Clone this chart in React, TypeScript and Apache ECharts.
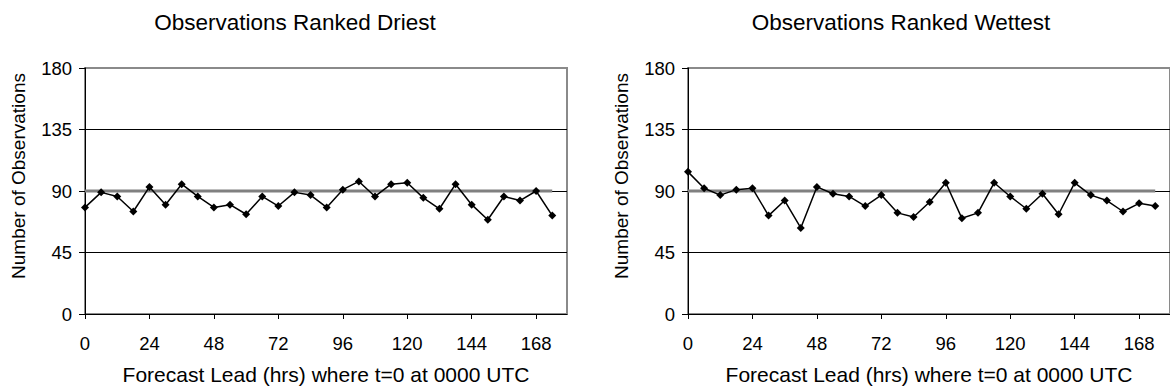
import React, { useEffect, useRef } from "react";
import * as echarts from "echarts";

const leadHours = [0, 6, 12, 18, 24, 30, 36, 42, 48, 54, 60, 66, 72, 78, 84, 90, 96, 102, 108, 114, 120, 126, 132, 138, 144, 150, 156, 162, 168, 174];
const driestCounts = [78, 89, 86, 75, 93, 80, 95, 86, 78, 80, 73, 86, 79, 89, 87, 78, 91, 97, 86, 95, 96, 85, 77, 95, 80, 69, 86, 83, 90, 72];
const wettestCounts = [104, 92, 87, 91, 92, 72, 83, 63, 93, 88, 86, 79, 87, 74, 71, 82, 96, 70, 74, 96, 86, 77, 88, 73, 96, 87, 83, 75, 81, 79];
const expectedLeads = [0, 174];
const expectedCounts = [90, 90];
const panelTitles = ["Observations Ranked Driest", "Observations Ranked Wettest"];
const xAxisTitle = "Forecast Lead (hrs) where t=0 at 0000 UTC";
const yAxisTitle = "Number of Observations";

const FONT = "'Liberation Sans', Arial, sans-serif";

export default function App() {
  const ref = useRef<HTMLDivElement>(null);
  useEffect(() => {
    document.body.style.margin = "0";
    const chart = echarts.init(ref.current!, null, { renderer: "svg" });
    const grids = [
      { left: 85, top: 68, width: 482, height: 246 },
      { left: 688, top: 68, width: 482, height: 246 },
    ];
    const titleCenters = [290, 896];
    const seriesSets = [driestCounts, wettestCounts];
    const option: any = {
      animation: false,
      backgroundColor: "#fff",
      textStyle: { fontFamily: FONT },
      title: panelTitles.map((t, i) => ({
        text: t,
        left: titleCenters[i],
        top: 6,
        textAlign: "center",
        textStyle: { fontFamily: FONT, fontSize: 22.5, fontWeight: "normal", color: "#000" },
      })),
      grid: grids.map((g) => ({ ...g, show: true, borderColor: "#8a8a8a", borderWidth: 2, backgroundColor: "transparent" })),
      xAxis: grids.map((_, i) => ({
        type: "value",
        gridIndex: i,
        min: 0,
        max: 179.5,
        interval: 24,
        name: xAxisTitle,
        nameLocation: "middle",
        nameGap: 50,
        nameTextStyle: { fontFamily: FONT, fontSize: 21, color: "#000" },
        axisLine: { show: true, lineStyle: { color: "#000", width: 1 } },
        axisTick: { show: true, inside: false, length: 5, lineStyle: { color: "#000" } },
        axisLabel: { showMaxLabel: false, fontFamily: FONT, fontSize: 18.5, color: "#000", margin: 20 },
        splitLine: { show: false },
      })),
      yAxis: grids.map((_, i) => ({
        type: "value",
        gridIndex: i,
        min: 0,
        max: 180,
        interval: 45,
        name: yAxisTitle,
        nameLocation: "middle",
        nameGap: 57,
        nameTextStyle: { fontFamily: FONT, fontSize: 19, color: "#000", padding: [0, 0, 0, 30] },
        axisLine: { show: true, lineStyle: { color: "#000", width: 1 } },
        axisTick: { show: true, inside: false, length: 6, lineStyle: { color: "#000" } },
        axisLabel: { fontFamily: FONT, fontSize: 18.5, color: "#000", margin: 13 },
        splitLine: { show: true, lineStyle: { color: ["#000", "#000", "#000", "#000", "#8a8a8a"], width: 1 } },
      })),
      series: [
        ...grids.map((_, i) => ({
          type: "line",
          xAxisIndex: i,
          yAxisIndex: i,
          data: expectedLeads.map((x, j) => [x, expectedCounts[j]]),
          showSymbol: false,
          symbol: "none",
          lineStyle: { color: "#808080", width: 3 },
          z: 2,
        })),
        ...grids.map((_, i) => ({
          type: "line",
          xAxisIndex: i,
          yAxisIndex: i,
          data: leadHours.map((x, j) => [x, seriesSets[i][j]]),
          symbol: "diamond",
          symbolSize: 8,
          itemStyle: { color: "#000" },
          lineStyle: { color: "#000", width: 1.5 },
          z: 3,
        })),
      ],
    };
    chart.setOption(option);
    return () => chart.dispose();
  }, []);
  return <div ref={ref} style={{ width: 1170, height: 390 }} />;
}
